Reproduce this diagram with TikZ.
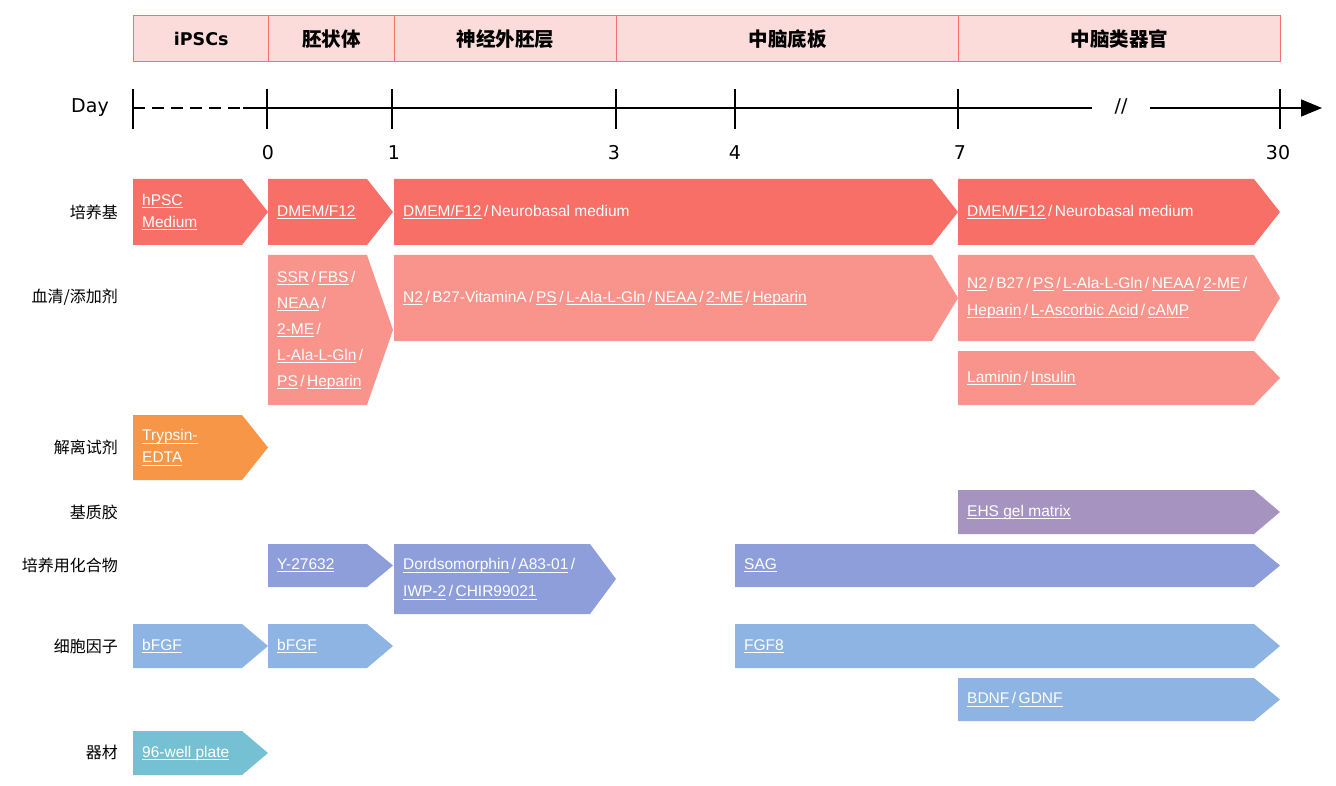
\documentclass[tikz,border=0pt]{standalone}
\usepackage{fontspec}
\usepackage{tikz}
\setmainfont{Liberation Sans}
\newfontfamily\cjk{Noto Sans CJK SC}
\newfontfamily\dvs{DejaVu Sans}
\usetikzlibrary{arrows.meta}

\definecolor{phasefill}{HTML}{FCDCDB}
\definecolor{phaseline}{HTML}{F2736B}
\definecolor{mediumc}{HTML}{F76F66}
\definecolor{additivec}{HTML}{F8948B}
\definecolor{dissocc}{HTML}{F79646}
\definecolor{matrixc}{HTML}{A793C0}
\definecolor{compoundc}{HTML}{8E9EDB}
\definecolor{cytokinec}{HTML}{8EB4E3}
\definecolor{equipc}{HTML}{76C0D3}

% underlined item and separator
\newcommand\ulk[1]{\setbox0=\hbox{#1}\rlap{\rule[-2.6pt]{\wd0}{0.9pt}}\box0}
\newcommand\sep{\hspace{2.5pt}/\hspace{2.5pt}}
% pentagon arrow: colour, name, x left, x tip, y top, y bottom
\newcommand\arrowbox[6]{%
  \fill[fill=#1] (#3,#5) -- ({#4-26},#5) -- (#4,{(#5+#6)/2}) -- ({#4-26},#6) -- (#3,#6) -- cycle;
  \coordinate (#2) at ({#3+9},{(#5+#6)/2});}

\tikzset{
  phase/.style={draw=phaseline, line width=1.4pt, fill=phasefill, anchor=north west,
    minimum height=46pt, inner sep=0pt, font=\cjk\bfseries\fontsize{19.5}{19.5}\selectfont},
  item/.style={anchor=west, inner sep=0pt, text=white, align=left,
    font=\fontsize{15.5}{26}\selectfont},
  rowlab/.style={anchor=east, inner sep=0pt, font=\cjk\fontsize{16}{16}\selectfont},
  daylab/.style={font=\dvs\fontsize{19}{19}\selectfont},
}

\begin{document}
\begin{tikzpicture}[x=1pt,y=-1pt]
  \useasboundingbox (0,0) rectangle (1336,786);

  % phases
  \node[phase, minimum width=135pt] (ipsc) at (133,15) {\dvs\fontsize{17.5}{17.5}\selectfont iPSCs};
  \node[phase, minimum width=126pt] (eb) at (268,15) {胚状体};
  \node[phase, minimum width=222pt] (ne) at (394,15) {神经外胚层};
  \node[phase, minimum width=342pt] (fp) at (616,15) {中脑底板};
  \node[phase, minimum width=322pt] (mo) at (958,15) {中脑类器官};

  % time axis
  \node[daylab] (day) at (90,108) {Day};
  \draw[line width=1.6pt, dash pattern=on 12pt off 7pt] (133,108) -- (243,108);
  \draw[line width=1.6pt] (243,108) -- (1092,108);
  \node[daylab] (brk) at (1121,106) {//};
  \draw[line width=1.6pt, -{Triangle[length=21pt,width=17pt]}] (1150,108) -- (1322,108);
  \foreach \x in {133,267,392,616,735,958,1280}
    \draw[line width=1.6pt] (\x,89) -- (\x,129);
  \foreach \x/\d in {268/0,394/1,614/3,735/4,960/7,1278/30}
    \node[daylab] (d\d) at (\x,153) {\d};

  % row labels
  \node[rowlab] (r1) at (118,212) {培养基};
  \node[rowlab] (r2) at (118,297) {血清/添加剂};
  \node[rowlab] (r3) at (118,447) {解离试剂};
  \node[rowlab] (r4) at (118,512) {基质胶};
  \node[rowlab] (r5) at (118,565) {培养用化合物};
  \node[rowlab] (r6) at (118,646) {细胞因子};
  \node[rowlab] (r7) at (118,752) {器材};

  % medium
  \arrowbox{mediumc}{m1}{133}{268}{179}{245}
  \arrowbox{mediumc}{m2}{268}{393}{179}{245}
  \arrowbox{mediumc}{m3}{394}{958}{179}{245}
  \arrowbox{mediumc}{m4}{958}{1280}{179}{245}
  \node[item, font=\fontsize{15.5}{22}\selectfont] (m1t) at (m1) {\ulk{hPSC}\\\ulk{Medium}};
  \node[item] (m2t) at (m2) {\ulk{DMEM/F12}};
  \node[item] (m3t) at (m3) {\ulk{DMEM/F12}\sep Neurobasal medium};
  \node[item] (m4t) at (m4) {\ulk{DMEM/F12}\sep Neurobasal medium};

  % serum / additives
  \arrowbox{additivec}{a1}{268}{393}{255}{405}
  \arrowbox{additivec}{a2}{394}{958}{255}{341}
  \arrowbox{additivec}{a3}{958}{1280}{255}{341}
  \arrowbox{additivec}{a4}{958}{1280}{351}{405}
  \node[item] (a1t) at (a1) {\ulk{SSR}\sep\ulk{FBS}\sep\\\ulk{NEAA}\sep\\\ulk{2-ME}\sep\\\ulk{L-Ala-L-Gln}\sep\\\ulk{PS}\sep\ulk{Heparin}};
  \node[item] (a2t) at (a2) {\ulk{N2}\sep B27-VitaminA\sep\ulk{PS}\sep\ulk{L-Ala-L-Gln}\sep\ulk{NEAA}\sep\ulk{2-ME}\sep\ulk{Heparin}};
  \node[item, font=\fontsize{15.5}{27}\selectfont] (a3t) at (a3) {\ulk{N2}\sep B27\sep\ulk{PS}\sep\ulk{L-Ala-L-Gln}\sep\ulk{NEAA}\sep\ulk{2-ME}\sep\\\ulk{Heparin}\sep\ulk{L-Ascorbic Acid}\sep\ulk{cAMP}};
  \node[item] (a4t) at (a4) {\ulk{Laminin}\sep\ulk{Insulin}};

  % dissociation, matrix
  \arrowbox{dissocc}{s1}{133}{268}{415}{480}
  \node[item, font=\fontsize{15.5}{22}\selectfont] (s1t) at (s1) {\ulk{Trypsin-}\\\ulk{EDTA}};
  \arrowbox{matrixc}{x1}{958}{1280}{490}{534}
  \node[item] (x1t) at (x1) {\ulk{EHS gel matrix}};

  % compounds
  \arrowbox{compoundc}{c1}{268}{393}{544}{587}
  \arrowbox{compoundc}{c2}{394}{616}{544}{614}
  \arrowbox{compoundc}{c3}{735}{1280}{544}{587}
  \node[item] (c1t) at (c1) {\ulk{Y-27632}};
  \node[item, font=\fontsize{15.5}{27}\selectfont] (c2t) at (c2) {\ulk{Dordsomorphin}\sep\ulk{A83-01}\sep\\\ulk{IWP-2}\sep\ulk{CHIR99021}};
  \node[item] (c3t) at (c3) {\ulk{SAG}};

  % cytokines
  \arrowbox{cytokinec}{f1}{133}{268}{624}{668}
  \arrowbox{cytokinec}{f2}{268}{393}{624}{668}
  \arrowbox{cytokinec}{f3}{735}{1280}{624}{668}
  \arrowbox{cytokinec}{f4}{958}{1280}{678}{721}
  \node[item] (f1t) at (f1) {\ulk{bFGF}};
  \node[item] (f2t) at (f2) {\ulk{bFGF}};
  \node[item] (f3t) at (f3) {\ulk{FGF8}};
  \node[item] (f4t) at (f4) {\ulk{BDNF}\sep\ulk{GDNF}};

  % equipment
  \arrowbox{equipc}{e1}{133}{268}{731}{775}
  \node[item] (e1t) at (e1) {\ulk{96-well plate}};
\end{tikzpicture}
\end{document}
